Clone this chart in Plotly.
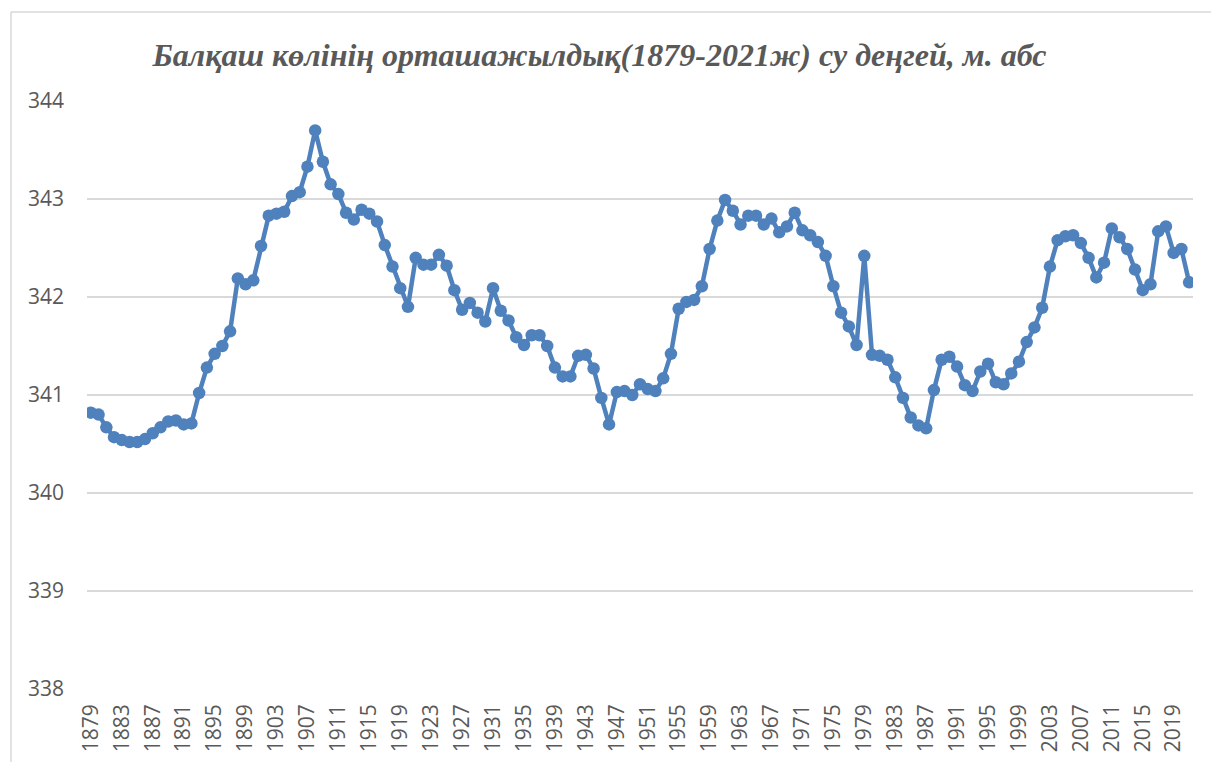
import plotly.graph_objects as go

years = list(range(1879, 2022))
levels = [
    340.82, 340.80, 340.67, 340.57, 340.54, 340.52, 340.52, 340.55, 340.61, 340.67,  # 1879-1888
    340.73, 340.74, 340.70, 340.71, 341.02, 341.28, 341.42, 341.50, 341.65, 342.19,  # 1889-1898
    342.13, 342.17, 342.52, 342.83, 342.85, 342.87, 343.03, 343.07, 343.33, 343.70,  # 1899-1908
    343.38, 343.15, 343.05, 342.86, 342.79, 342.89, 342.85, 342.77, 342.53, 342.31,  # 1909-1918
    342.09, 341.90, 342.40, 342.33, 342.33, 342.43, 342.32, 342.07, 341.87, 341.94,  # 1919-1928
    341.84, 341.75, 342.09, 341.86, 341.76, 341.59, 341.51, 341.61, 341.61, 341.50,  # 1929-1938
    341.28, 341.19, 341.19, 341.40, 341.41, 341.27, 340.97, 340.70, 341.03, 341.04,  # 1939-1948
    341.00, 341.11, 341.06, 341.04, 341.17, 341.42, 341.88, 341.95, 341.97, 342.11,  # 1949-1958
    342.49, 342.78, 342.99, 342.88, 342.74, 342.83, 342.83, 342.74, 342.80, 342.66,  # 1959-1968
    342.72, 342.86, 342.68, 342.63, 342.56, 342.42, 342.11, 341.84, 341.70, 341.51,  # 1969-1978
    342.42, 341.41, 341.40, 341.36, 341.18, 340.97, 340.77, 340.69, 340.66, 341.05,  # 1979-1988
    341.36, 341.39, 341.29, 341.10, 341.04, 341.24, 341.32, 341.13, 341.11, 341.22,  # 1989-1998
    341.34, 341.54, 341.69, 341.89, 342.31, 342.58, 342.62, 342.63, 342.55, 342.40,  # 1999-2008
    342.20, 342.35, 342.70, 342.61, 342.49, 342.28, 342.07, 342.13, 342.67, 342.72,  # 2009-2018
    342.45, 342.49, 342.15,                                                          # 2019-2021
]
tick_years = list(range(1879, 2022, 4))
y_ticks = [338, 339, 340, 341, 342, 343, 344]
title_text = "Балқаш көлінің орташажылдық(1879-2021ж) су деңгей, м. абс"

W, H = 1211, 762
left, right, top, bottom = 87, 1193, 101, 689

fig = go.Figure()
fig.add_trace(go.Scatter(
    x=years, y=levels, mode="lines+markers",
    line=dict(color="#4F81BD", width=4.5),
    marker=dict(color="#4F81BD", size=12.5),
    showlegend=False, hoverinfo="x+y",
))

bx0 = (11 - left) / (right - left)
by1 = (bottom - 12) / (bottom - top)
border = dict(color="#D9D9D9", width=1.5)

fig.update_layout(
    width=W, height=H,
    margin=dict(l=left, r=W - right, t=top, b=H - bottom, autoexpand=False),
    paper_bgcolor="white", plot_bgcolor="white",
    title=dict(
        text=title_text,
        x=599.5 / W, xref="container", xanchor="center",
        y=1 - 55 / H, yref="container", yanchor="middle",
        font=dict(family="Liberation Serif", size=32, color="#595959", weight="bold", style="italic"),
    ),
    xaxis=dict(
        range=[1878.5, 2021.5], automargin=False,
        tickmode="array", tickvals=tick_years, ticktext=[str(y) for y in tick_years],
        tickangle=-90, showgrid=False, zeroline=False,
        showline=False, ticks="", ticklabelstandoff=10,
        tickfont=dict(family="Open Sans", size=21, color="#595959"),
    ),
    yaxis=dict(
        range=[338, 344], automargin=False, tickmode="array", tickvals=y_ticks,
        showgrid=True, gridcolor="#D9D9D9", gridwidth=1.5,
        zeroline=False, showline=False, ticks="",
        ticklabelstandoff=22,
        tickfont=dict(family="Open Sans", size=21, color="#595959"),
    ),
    shapes=[
        dict(type="line", xref="paper", yref="paper",
             x0=bx0, x1=bx0, y0=-0.2, y1=by1, line=border, layer="below"),
        dict(type="line", xref="paper", yref="paper",
             x0=bx0, x1=1.05, y0=by1, y1=by1, line=border, layer="below"),
    ],
)

fig.write_html(
    "out.html",
    config={"displayModeBar": False},
    post_script="document.body.style.margin='0';document.body.style.overflow='hidden';",
)
